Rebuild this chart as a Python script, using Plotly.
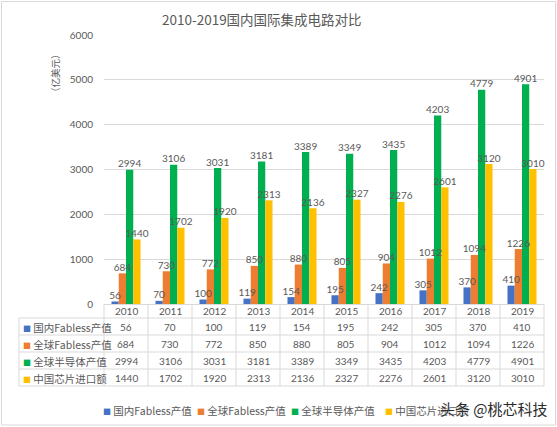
import plotly.graph_objects as go

# ---------------- data ----------------
years = ["2010", "2011", "2012", "2013", "2014", "2015", "2016", "2017", "2018", "2019"]
series_names = ["国内Fabless产值", "全球Fabless产值", "全球半导体产值", "中国芯片进口额"]
domestic_fabless = [56, 70, 100, 119, 154, 195, 242, 305, 370, 410]
global_fabless = [684, 730, 772, 850, 880, 805, 904, 1012, 1094, 1226]
global_semi = [2994, 3106, 3031, 3181, 3389, 3349, 3435, 4203, 4779, 4901]
china_import = [1440, 1702, 1920, 2313, 2136, 2327, 2276, 2601, 3120, 3010]
y_ticks = [0, 1000, 2000, 3000, 4000, 5000, 6000]
title_text = "2010-2019国内国际集成电路对比"
y_title = "（亿美元）"
watermark = "头条 @桃芯科技"

series_values = [domestic_fabless, global_fabless, global_semi, china_import]
colors = ["#4472C4", "#ED7D31", "#00B050", "#FFC000"]

# ---------------- layout geometry (pixels) ----------------
W, H = 557, 427
L, R, T, B = 104, 544, 35, 304
TXT = "#595959"
GRID = "#d9d9d9"
FONT = "Lato, Noto Sans CJK SC, sans-serif"
CJK = "Noto Sans CJK SC, Lato, sans-serif"
GAP = 0.34


def px(x):
    return (x - L) / (R - L)


def py(y):
    return (B - y) / (B - T)


def note(text, x, y, size, family=CJK, color=TXT, xanchor="center", **kw):
    return dict(text=text, x=x, y=y, xref="paper", yref="paper", showarrow=False,
                xanchor=xanchor, yanchor="middle",
                font=dict(family=family, size=size, color=color, **kw.pop("fontkw", {})), **kw)


fig = go.Figure()
for k, (name, vals, col) in enumerate(zip(series_names, series_values, colors)):
    fig.add_trace(go.Bar(
        x=years, y=vals, name=name, marker=dict(color=col, line=dict(width=0)),
        offsetgroup=str(k), showlegend=False, hoverinfo="x+y+name",
    ))
# data labels drawn on top of all bars
for k, vals in enumerate(series_values):
    fig.add_trace(go.Scatter(
        x=years, y=vals, mode="text", text=[str(v) for v in vals], textposition="top center",
        textfont=dict(family=FONT, size=10, color=TXT), offsetgroup=str(k),
        cliponaxis=False, showlegend=False, hoverinfo="skip",
    ))

annotations = []
shapes = []

annotations.append(note(title_text, px(262), py(19), 13.5))
annotations.append(note(y_title, px(55), py(73), 9.5, textangle=-90))

# ---- data table ----
n = len(years)
row_top = 304
header_c = 311
row_centers = [327, 344, 361, 378]
table_left = 19
bottom = 386

for i, yr in enumerate(years):
    annotations.append(note(yr, (i + 0.5) / n, py(header_c), 10, family=FONT))
for r, (name, vals, col) in enumerate(zip(series_names, series_values, colors)):
    yc = row_centers[r]
    annotations.append(note(f'<span style="color:{col};font-size:8px">■</span> {name}',
                            px(table_left + 2), py(yc), 10.5, xanchor="left"))
    for i, v in enumerate(vals):
        annotations.append(note(str(v), (i + 0.5) / n, py(yc), 10, family=FONT))

line_ys = [318, 335, 352, 369, bottom]
for ly in line_ys:
    shapes.append(dict(type="line", xref="paper", yref="paper", x0=px(table_left), x1=1,
                       y0=py(ly), y1=py(ly), line=dict(color=GRID, width=1)))
for i in range(n + 1):
    shapes.append(dict(type="line", xref="paper", yref="paper", x0=i / n, x1=i / n,
                       y0=py(row_top), y1=py(bottom), line=dict(color=GRID, width=1)))
shapes.append(dict(type="line", xref="paper", yref="paper", x0=px(table_left), x1=px(table_left),
                   y0=py(318), y1=py(bottom), line=dict(color=GRID, width=1)))

# ---- legend (manual) ----
legend_x = [101, 195, 289, 383]
for name, col, lx in zip(series_names, colors, legend_x):
    annotations.append(note(f'<span style="color:{col};font-size:8px">■</span> {name}',
                            px(lx), py(410), 10.5, xanchor="left"))

# watermark
annotations.append(note(watermark, px(494), py(408), 15, color="#2b2b2b",
                        fontkw=dict(shadow="0px 0px 2px white")))

# outer border
shapes.append(dict(type="rect", xref="paper", yref="paper", x0=px(1.5), x1=px(555.5),
                   y0=py(1.5), y1=py(425), line=dict(color=GRID, width=1), layer="below"))

fig.update_layout(
    width=W, height=H,
    margin=dict(l=L, r=W - R, t=T, b=H - B, pad=0),
    paper_bgcolor="white", plot_bgcolor="white",
    barmode="group", bargap=GAP, bargroupgap=0,
    scattermode="group", scattergap=GAP,
    annotations=annotations, shapes=shapes,
    showlegend=False,
    xaxis=dict(type="category", showticklabels=False, ticks="", showgrid=False,
               showline=True, linecolor=GRID, linewidth=1, zeroline=False, fixedrange=True,
               automargin=False),
    yaxis=dict(range=[0, 6000], tickvals=y_ticks, ticktext=[str(v) for v in y_ticks],
               showgrid=True, gridcolor=GRID, gridwidth=1, zeroline=False, showline=False,
               ticks="", ticklabelstandoff=10,
               tickfont=dict(family=FONT, size=10, color=TXT), automargin=False),
)

fig.write_html("out.html", config={"displayModeBar": False},
               post_script="document.body.style.margin='0';document.body.style.padding='0';")
